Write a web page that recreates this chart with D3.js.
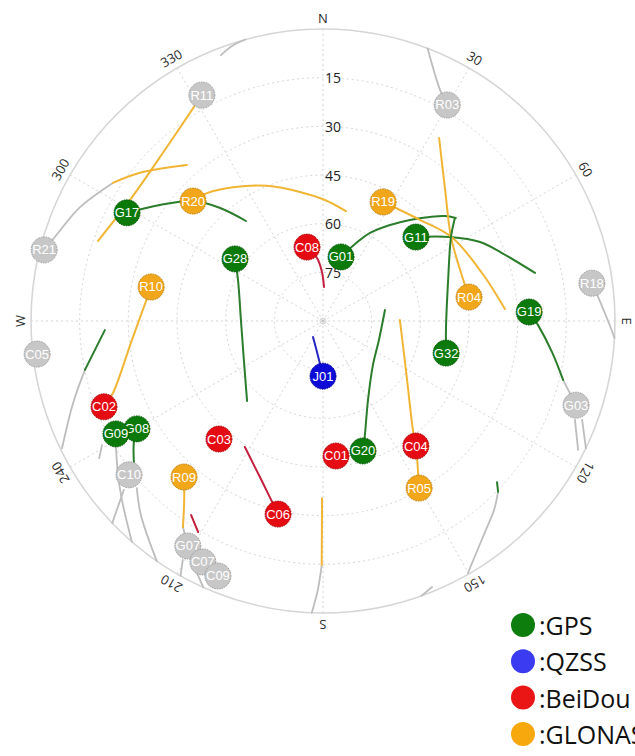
<!DOCTYPE html>
<html>
<head>
<meta charset="utf-8">
<script src="https://cdn.jsdelivr.net/npm/d3@7"></script>
<style>
  body { margin: 0; background: #ffffff; }
  svg { display: block; }
</style>
</head>
<body>
<svg id="sky" width="635" height="756"></svg>
<script>
// ---- Sky plot data (azimuth in degrees clockwise from north, elevation in degrees) ----
const azLabelAngles = [0, 30, 60, 90, 120, 150, 180, 210, 240, 270, 300, 330];
const azLabelTexts  = ["N", "30", "60", "E", "120", "150", "S", "210", "240", "W", "300", "330"];
const elRings       = [15, 30, 45, 60, 75];

const legendSystems = ["GPS", "QZSS", "BeiDou", "GLONASS"];

// current satellite positions
const satIds = ["R11","R03","R21","G17","R20","R19","C08","G01","G11","G28","R10","R18","R04","G19",
                "G32","G03","J01","C05","C02","G08","G09","C10","C03","C06","R09","G07","C07","C09",
                "C01","G20","C04","R05"];
const satSystems = ["none","none","none","GPS","GLONASS","GLONASS","BeiDou","GPS","GPS","GPS","GLONASS","none","GLONASS","GPS",
                    "GPS","none","QZSS","none","BeiDou","GPS","GPS","none","BeiDou","BeiDou","GLONASS","none","none","none",
                    "BeiDou","GPS","BeiDou","GLONASS"];
const satAz = [331.8, 29.9, 284.3, 298.9, 312.7, 26.8, 347.8, 15.7, 47.9, 305.2, 281.2, 82.0, 80.7, 87.5,
               104.6, 108.4, 180.0, 263.4, 248.6, 239.9, 241.4, 231.6, 221.4, 193.1, 221.7, 211.0, 206.5, 202.4,
               174.5, 162.9, 143.4, 150.1];
const satEl = [11.0, 13.2, 1.3, 21.0, 35.5, 48.9, 66.7, 69.5, 51.4, 56.8, 36.0, 6.3, 44.4, 26.4,
               50.8, 7.8, 73.0, 1.3, 17.5, 23.7, 17.3, 13.7, 41.5, 28.9, 25.6, 9.1, 7.0, 5.0,
               48.2, 48.1, 42.0, 30.6];

// past tracks, each a list of [azimuth, elevation]
const trackSystems = ["none","GLONASS","none","GLONASS","GPS","GLONASS","GPS","GLONASS","BeiDou","GPS",
                      "GPS","GLONASS","GLONASS","GPS","none","none","GPS","none","none","none",
                      "QZSS","GPS","GLONASS","GLONASS","none","GPS","none","none","GPS","none",
                      "none","GPS","none","none","none","GLONASS","none","BeiDou","none","none","BeiDou"];
const trackPoints = [
  [[339.0, 2.2], [341.7, 0.7], [344.6, 0.0]],
  [[331.8, 11.0], [317.3, 18.2], [302.1, 19.8], [289.6, 16.4]],
  [[284.3, 1.3], [287.4, 3.4], [295.1, 7.3], [303.3, 12.5]],
  [[303.3, 12.5], [309.0, 17.4], [318.9, 26.2]],
  [[298.9, 21.0], [305.4, 28.3], [312.7, 35.5], [317.7, 42.9], [322.4, 51.1]],
  [[312.7, 35.5], [317.8, 36.8], [326.7, 40.6], [337.5, 44.9], [349.9, 49.6], [0.9, 52.7], [11.8, 55.4]],
  [[305.2, 56.8], [295.8, 60.9], [270.7, 64.7], [243.7, 62.8], [223.5, 56.0]],
  [[281.2, 36.0], [264.3, 30.8], [251.1, 21.6], [248.6, 17.5]],
  [[347.8, 66.7], [354.6, 70.5], [358.8, 74.9], [361.7, 79.5]],
  [[15.7, 69.5], [22.6, 64.3], [28.1, 59.2], [34.9, 53.9], [40.7, 48.9], [45.8, 44.0], [49.3, 40.4], [52.2, 38.2]],
  [[47.9, 51.4], [56.5, 43.1], [63.3, 35.8], [69.2, 31.0], [77.2, 23.0]],
  [[26.8, 48.9], [43.8, 46.8], [57.1, 42.6], [73.2, 38.8], [86.2, 33.8]],
  [[32.4, 23.2], [43.0, 34.8], [56.7, 42.8], [69.6, 44.9], [80.7, 44.4]],
  [[52.0, 38.4], [56.7, 42.8], [71.8, 49.4], [94.2, 52.0], [104.6, 50.8]],
  [[29.9, 13.2], [26.9, 10.2], [21.0, 0.0]],
  [[82.0, 6.3], [85.0, 4.9], [89.4, 2.5], [93.3, 0.0]],
  [[87.5, 26.4], [91.1, 23.7], [97.7, 18.8], [103.8, 13.8]],
  [[103.8, 13.8], [108.4, 7.8]],
  [[111.4, 6.6], [116.8, 1.9]],
  [[110.9, 4.5], [115.8, 0.0]],
  [[212.0, 84.2], [188.1, 79.1], [180.0, 73.0]],
  [[79.9, 70.6], [108.7, 71.8], [131.3, 69.5], [150.3, 62.0], [159.8, 52.6], [162.9, 48.1]],
  [[89.3, 66.3], [120.6, 60.3], [140.5, 46.4], [143.4, 42.0], [150.1, 30.6]],
  [[180.3, 35.4], [180.3, 14.8]],
  [[180.3, 14.8], [181.1, 7.1], [182.2, 0.0]],
  [[132.8, 16.9], [134.3, 14.6]],
  [[134.3, 14.6], [137.9, 11.4], [142.5, 8.0], [150.1, 0.4]],
  [[157.7, 1.4], [160.3, 0.0]],
  [[267.6, 22.7], [258.4, 15.1]],
  [[258.4, 15.1], [251.8, 8.9], [244.0, 0.5]],
  [[240.7, 11.9], [238.5, 9.1]],
  [[239.9, 23.7], [237.4, 20.8], [233.3, 17.3]],
  [[238.7, 15.3], [233.1, 11.0], [228.3, 7.0], [220.9, 0.0]],
  [[229.7, 9.5], [226.2, 0.0]],
  [[228.1, 12.9], [223.2, 8.0], [214.7, 0.0]],
  [[221.7, 25.6], [217.8, 20.2], [214.2, 13.2]],
  [[214.2, 13.2], [211.0, 9.1]],
  [[214.2, 17.7], [210.6, 14.4]],
  [[210.4, 4.6], [209.2, 0.0]],
  [[206.6, 3.2], [204.2, 0.0]],
  [[211.8, 44.3], [200.9, 37.2], [193.1, 28.9]]
];

// ---- colours per constellation ----
const markerFill = { GPS: "#0b7a0b", QZSS: "#0c0cd6", BeiDou: "#e40b12", GLONASS: "#f2a61a", none: "#c7c7c7" };
const markerEdge = { GPS: "#065206", QZSS: "#05058f", BeiDou: "#a10a0d", GLONASS: "#b77c0e", none: "#9c9c9c" };
const trackColor = { GPS: "#2b7d2b", QZSS: "#2626c4", BeiDou: "#c41f3c", GLONASS: "#f1b535", none: "#bdbdbd" };
const legendFill = { GPS: "#0d7d0d", QZSS: "#3b3bf2", BeiDou: "#ea1616", GLONASS: "#f6a80d" };

// ---- geometry ----
const cx = 323, cy = 321, R = 292;
const rScale = d3.scaleLinear().domain([90, 0]).range([0, R]);
const aScale = d3.scaleLinear().domain([0, 360]).range([0, 2 * Math.PI]);

const svg = d3.select("#sky");
const plot = svg.append("g").attr("transform", `translate(${cx},${cy})`);

// grid: elevation rings
plot.append("g").selectAll("circle")
  .data(elRings)
  .join("circle")
  .attr("r", d => rScale(d))
  .attr("fill", "none")
  .attr("stroke", "#d4d4d4")
  .attr("stroke-width", 1)
  .attr("stroke-dasharray", "2,3");

// grid: azimuth spokes
plot.append("g").selectAll("line")
  .data(azLabelAngles)
  .join("line")
  .attr("x1", 0).attr("y1", 0)
  .attr("x2", d => d3.pointRadial(aScale(d), rScale(0))[0])
  .attr("y2", d => d3.pointRadial(aScale(d), rScale(0))[1])
  .attr("stroke", "#d4d4d4")
  .attr("stroke-width", 1)
  .attr("stroke-dasharray", "2,3");

// horizon
plot.append("circle")
  .attr("r", rScale(0))
  .attr("fill", "none")
  .attr("stroke", "#d6d6d6")
  .attr("stroke-width", 1.6);

// zenith mark
plot.append("circle").attr("r", 3).attr("fill", "none").attr("stroke", "#cfcfcf");
plot.append("circle").attr("r", 1).attr("fill", "#bdbdbd");

// elevation labels
plot.append("g").selectAll("text")
  .data(elRings)
  .join("text")
  .attr("x", 2)
  .attr("y", d => -rScale(d))
  .attr("dominant-baseline", "central")
  .attr("font-family", "'Open Sans', 'DejaVu Sans', sans-serif")
  .attr("font-size", 14)
  .attr("fill", "#222")
  .text(d => d);

// azimuth labels, rotated with the bearing
plot.append("g").selectAll("text")
  .data(azLabelAngles)
  .join("text")
  .attr("transform", d => {
    const p = d3.pointRadial(aScale(d), rScale(0) + 11.5);
    return `translate(${p[0]},${p[1]}) rotate(${d})`;
  })
  .attr("text-anchor", "middle")
  .attr("dominant-baseline", "central")
  .attr("font-family", "'Open Sans', 'DejaVu Sans', sans-serif")
  .attr("font-size", 13)
  .attr("fill", "#2a2a2a")
  .text((d, i) => azLabelTexts[i]);

// tracks: grey ones underneath coloured ones
const lineGen = d3.lineRadial()
  .angle(d => aScale(d[0]))
  .radius(d => rScale(d[1]))
  .curve(d3.curveCatmullRom.alpha(0.5));

const trackOrder = d3.range(trackPoints.length)
  .sort((a, b) => (trackSystems[a] === "none" ? 0 : 1) - (trackSystems[b] === "none" ? 0 : 1));

plot.append("g").selectAll("path")
  .data(trackOrder)
  .join("path")
  .attr("d", i => lineGen(trackPoints[i]))
  .attr("fill", "none")
  .attr("stroke", i => trackColor[trackSystems[i]])
  .attr("stroke-width", i => trackSystems[i] === "none" ? 1.8 : 2)
  .attr("stroke-linecap", "round");

// satellite markers
const sats = plot.append("g").selectAll("g")
  .data(d3.range(satIds.length))
  .join("g")
  .attr("transform", i => {
    const p = d3.pointRadial(aScale(satAz[i]), rScale(satEl[i]));
    return `translate(${p[0]},${p[1]})`;
  });

sats.append("circle")
  .attr("r", 13)
  .attr("fill", i => markerFill[satSystems[i]])
  .attr("stroke", i => markerEdge[satSystems[i]])
  .attr("stroke-width", 1)
  .attr("stroke-dasharray", "1.5,1");

sats.append("text")
  .attr("text-anchor", "middle")
  .attr("dominant-baseline", "central")
  .attr("font-family", "'Liberation Sans Narrow', 'Liberation Sans', Arial, sans-serif")
  .attr("font-size", 13)
  .attr("fill", "#ffffff")
  .text(i => satIds[i]);

// legend
const legend = svg.append("g").attr("transform", "translate(523,625)");
const rows = legend.selectAll("g")
  .data(legendSystems)
  .join("g")
  .attr("transform", (d, i) => `translate(0,${i * 36.3})`);

rows.append("circle")
  .attr("r", 12)
  .attr("fill", d => legendFill[d]);

rows.append("text")
  .attr("x", 16)
  .attr("dominant-baseline", "central")
  .attr("font-family", "'Open Sans', 'Noto Sans', sans-serif")
  .attr("font-size", 25)
  .attr("fill", "#111")
  .text(d => ":" + d);
</script>
</body>
</html>
